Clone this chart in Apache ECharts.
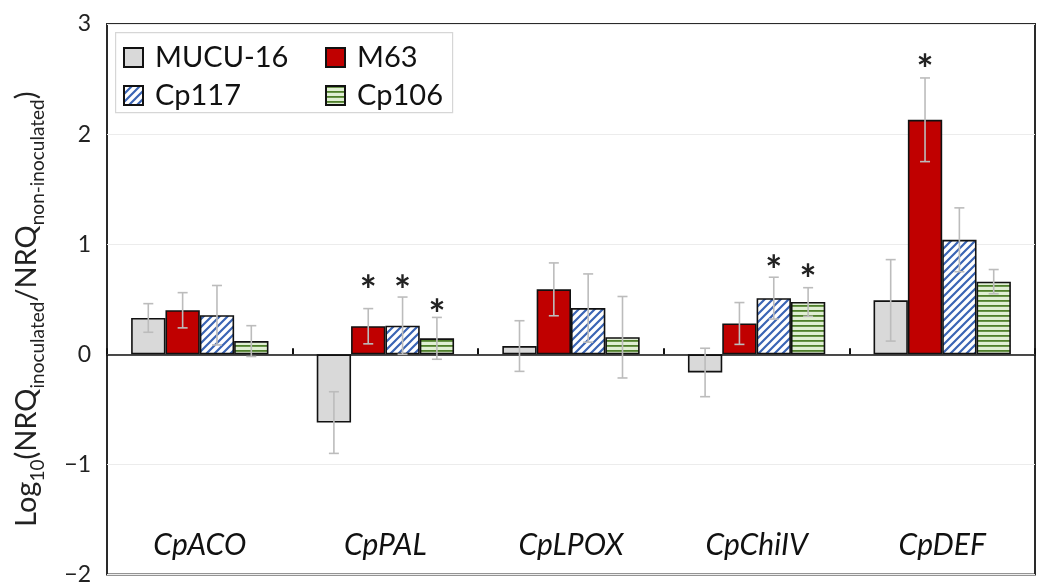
<!DOCTYPE html>
<html><head><meta charset="utf-8">
<script src="https://cdn.jsdelivr.net/npm/echarts@6/dist/echarts.min.js"></script>
<style>html,body{margin:0;padding:0;background:#fff}#c{width:1041px;height:586px}</style>
</head><body><div id="c"></div>
<script>
const categories = ['CpACO', 'CpPAL', 'CpLPOX', 'CpChiIV', 'CpDEF'];
const seriesNames = ['MUCU-16', 'M63', 'Cp117', 'Cp106'];
const mucu16 = [0.33, -0.62, 0.075, -0.165, 0.49];
const m63 = [0.40, 0.255, 0.59, 0.28, 2.13];
const cp117 = [0.355, 0.26, 0.42, 0.51, 1.04];
const cp106 = [0.12, 0.145, 0.155, 0.475, 0.66];
const mucu16Err = [0.13, 0.28, 0.23, 0.22, 0.37];
const m63Err = [0.16, 0.16, 0.24, 0.19, 0.38];
const cp117Err = [0.27, 0.26, 0.31, 0.19, 0.29];
const cp106Err = [0.14, 0.19, 0.37, 0.13, 0.11];
// y position (data units) of significance asterisks, null = none
const mucu16Star = [null, null, null, null, null];
const m63Star = [null, 0.655, null, null, 2.66];
const cp117Star = [null, 0.655, null, 0.84, null];
const cp106Star = [null, 0.44, null, 0.76, null];
const yTicks = [-2, -1, 0, 1, 2, 3];

const FONT = 'Lato';

function diagPattern() {
  const c = document.createElement('canvas');
  c.width = 8; c.height = 8;
  const g = c.getContext('2d');
  g.fillStyle = '#ffffff'; g.fillRect(0, 0, 8, 8);
  g.strokeStyle = '#3a64b4'; g.lineWidth = 2.2;
  g.beginPath();
  g.moveTo(-2, 10); g.lineTo(10, -2);
  g.moveTo(-6, 6); g.lineTo(6, -6);
  g.moveTo(2, 14); g.lineTo(14, 2);
  g.stroke();
  return { image: c, repeat: 'repeat' };
}
function horizPattern() {
  const c = document.createElement('canvas');
  c.width = 8; c.height = 5;
  const g = c.getContext('2d');
  g.fillStyle = '#e0efd4'; g.fillRect(0, 0, 8, 5);
  g.fillStyle = '#4f7f2a'; g.fillRect(0, 0, 8, 1.8);
  return { image: c, repeat: 'repeat' };
}

const values = [mucu16, m63, cp117, cp106];
const errs = [mucu16Err, m63Err, cp117Err, cp106Err];
const stars = [mucu16Star, m63Star, cp117Star, cp106Star];
const fills = ['#d9d9d9', '#c00000', diagPattern(), horizPattern()];

const GAP = 0.26;
const series = [];
seriesNames.forEach((name, i) => {
  series.push({
    name: name, type: 'bar', xAxisIndex: 0,
    data: values[i],
    barCategoryGap: (GAP * 100) + '%', barGap: '0%',
    itemStyle: { color: fills[i], borderColor: '#111', borderWidth: 1.6 },
    z: 2
  });
});
seriesNames.forEach((name, i) => {
  series.push({
    type: 'custom', xAxisIndex: 0, z: 5, silent: true,
    data: values[i].map((v, k) => [k, v, errs[i][k], stars[i][k] == null ? NaN : stars[i][k]]),
    renderItem: function (params, api) {
      const idx = api.value(0), v = api.value(1), e = api.value(2), s = api.value(3);
      const cx0 = api.coord([idx, 0])[0];
      const catW = api.size([1, 0])[0];
      const bw = catW * (1 - GAP) / 4;
      const cx = cx0 + (i - 1.5) * bw;
      const yt = api.coord([idx, v + e])[1];
      const yb = api.coord([idx, v - e])[1];
      const st = { stroke: '#bcbcbc', lineWidth: 1.6 };
      const ch = [
        { type: 'line', shape: { x1: cx, y1: yt, x2: cx, y2: yb }, style: st },
        { type: 'line', shape: { x1: cx - 5, y1: yt, x2: cx + 5, y2: yt }, style: st },
        { type: 'line', shape: { x1: cx - 5, y1: yb, x2: cx + 5, y2: yb }, style: st }
      ];
      if (!isNaN(s)) {
        const ys = api.coord([idx, s])[1];
        ch.push({ type: 'text', style: { text: '*', x: cx, y: ys + 10, fontSize: 40, fontFamily: FONT, fontWeight: 'bold', fill: '#222', align: 'center', verticalAlign: 'middle' } });
      }
      return { type: 'group', children: ch };
    }
  });
});

const legendPos = [[123, 43], [325, 43], [123, 81], [325, 81]];
const legends = seriesNames.map((n, i) => ({
  data: [n], left: legendPos[i][0], top: legendPos[i][1], padding: 0,
  itemWidth: 19, itemHeight: 19, icon: 'rect',
  textStyle: { fontSize: 29, fontFamily: FONT, color: '#111', padding: [0, 0, 0, 7] }
}));

const chart = echarts.init(document.getElementById('c'));
chart.setOption({
  animation: false,
  backgroundColor: '#fff',
  grid: { left: 107, right: 6, top: 24, bottom: 8, show: true, borderColor: '#2a2a2a', borderWidth: 2, containLabel: false },
  legend: legends,
  graphic: [{ type: 'rect', left: 115, top: 32, shape: { width: 337, height: 80 }, style: { fill: 'rgba(0,0,0,0)', stroke: '#d6d6d6', lineWidth: 1.2 }, silent: true }],
  xAxis: [
    { type: 'category', data: categories, position: 'bottom',
      axisLine: { show: false, onZero: false }, axisTick: { show: false },
      axisLabel: { inside: true, margin: 14, fontSize: 30, fontStyle: 'italic', fontFamily: FONT, color: '#111' } },
    { type: 'category', data: categories, position: 'top',
      axisLine: { show: true, onZero: true, lineStyle: { color: '#111', width: 1.6 } },
      axisTick: { show: true, length: 6, lineStyle: { color: '#111', width: 2 } },
      axisLabel: { show: false } }
  ],
  yAxis: {
    type: 'value', min: yTicks[0], max: yTicks[yTicks.length - 1], interval: 1,
    axisLine: { show: false }, axisTick: { show: false },
    splitLine: { lineStyle: { color: '#ececec', width: 1 } },
    axisLabel: { fontSize: 23, fontFamily: FONT, color: '#222', margin: 16, formatter: v => String(v).replace('-', '\u2212') },
    name: '{m|Log}{s|10}{m|(NRQ}{s|inoculated}{m|/NRQ}{s|non-inoculated}{m|)}',
    nameLocation: 'middle', nameGap: 60, nameRotate: 90,
    nameTextStyle: {
      padding: [0, 20, 0, 0],
      rich: {
        m: { fontSize: 29, fontFamily: FONT, color: '#222', lineHeight: 40, verticalAlign: 'middle' },
        s: { fontSize: 19, fontFamily: FONT, color: '#222', lineHeight: 40, verticalAlign: 'bottom' }
      }
    }
  },
  series: series
});
</script></body></html>
